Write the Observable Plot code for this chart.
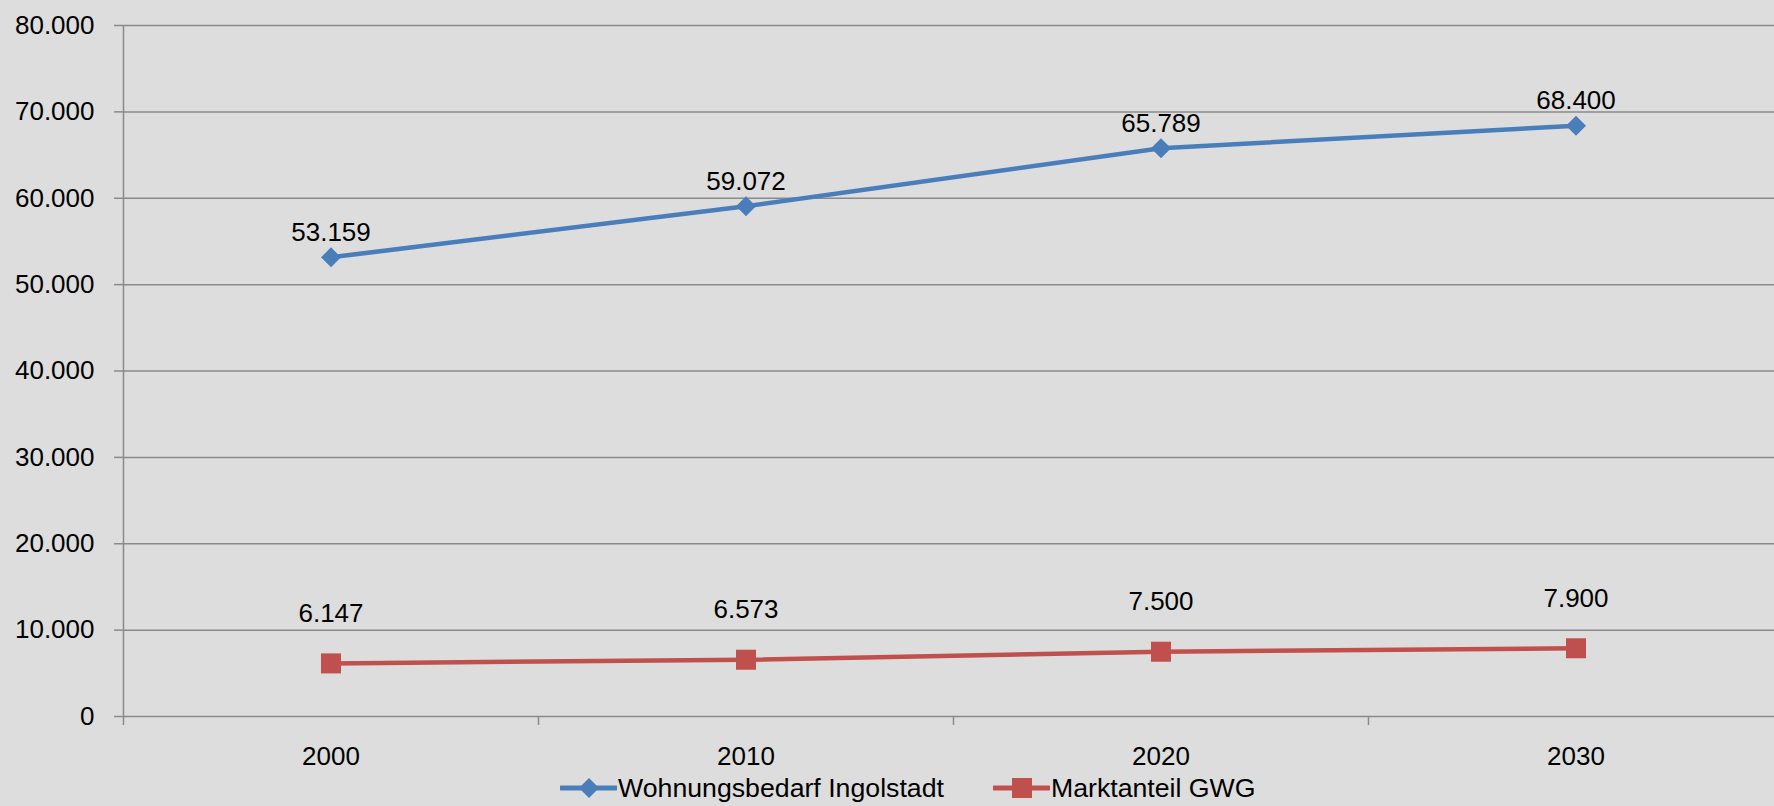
<!DOCTYPE html>
<html>
<head>
<meta charset="utf-8">
<script src="https://cdn.jsdelivr.net/npm/d3@7"></script>
<script src="https://cdn.jsdelivr.net/npm/@observablehq/plot@0.6"></script>
<style>
  html, body { margin: 0; padding: 0; background: #dddddd; }
  body { width: 1774px; height: 806px; overflow: hidden; font-family: "Liberation Sans", Arial, sans-serif; }
  #legend { display: flex; align-items: center; height: 36px; margin-left: 560px; font-size: 26.7px; color: #000; }
  .item { display: flex; align-items: center; margin-right: 49px; }
  .item svg { margin-right: 1px; }
</style>
</head>
<body>
<div id="chart"></div>
<div id="legend"></div>
<script>
const years = [2000, 2010, 2020, 2030];
const wohnungsbedarf = [53159, 59072, 65789, 68400];
const marktanteil = [6147, 6573, 7500, 7900];
const seriesNames = ["Wohnungsbedarf Ingolstadt", "Marktanteil GWG"];
const seriesColors = ["#4a7ebb", "#c0504d"];
const yTicks = [0, 10000, 20000, 30000, 40000, 50000, 60000, 70000, 80000];

const de = d3.formatLocale({decimal: ",", thousands: ".", grouping: [3], currency: ["", " €"]});
const fmt = de.format(",d");

const blue = years.map((year, i) => ({year, value: wohnungsbedarf[i]}));
const red = years.map((year, i) => ({year, value: marktanteil[i]}));
const step = years[1] - years[0];
const xDomain = [years[0] - step / 2, years[years.length - 1] + step / 2];
const bounds = [xDomain[0], ...years.slice(1).map((y, i) => (y + years[i]) / 2), xDomain[1]];

const gridColor = "#8a8a8a";

const chart = Plot.plot({
  width: 1774,
  height: 770,
  marginLeft: 123,
  marginRight: 0,
  marginTop: 25,
  marginBottom: 54,
  x: {type: "linear", domain: xDomain, range: [123, 1783]},
  y: {domain: [0, 80000]},
  style: {background: "transparent", fontFamily: "'Liberation Sans', Arial, sans-serif", fontSize: "26px", color: "#000", overflow: "visible"},
  marks: [
    Plot.gridY(yTicks, {stroke: gridColor, strokeOpacity: 1, strokeWidth: 1.5}),
    Plot.ruleX([xDomain[0]], {y1: 0, y2: 80000, stroke: gridColor, strokeWidth: 1.5}),
    Plot.axisY(yTicks, {tickSize: 9, tickPadding: 20, tickFormat: fmt, stroke: gridColor, strokeWidth: 1.5, fontSize: 26, label: null}),
    Plot.axisX(bounds, {tickSize: 9, tickFormat: () => "", stroke: gridColor, strokeWidth: 1.5, label: null}),
    Plot.axisX(years, {tickSize: 0, tickPadding: 30, tickFormat: d => String(d), fontSize: 26, label: null}),
    Plot.line(blue, {x: "year", y: "value", stroke: seriesColors[0], strokeWidth: 4.5}),
    Plot.line(red, {x: "year", y: "value", stroke: seriesColors[1], strokeWidth: 4.5}),
    Plot.dot(blue, {x: "year", y: "value", symbol: "diamond2", r: 9, fill: seriesColors[0], stroke: null}),
    Plot.dot(red, {x: "year", y: "value", symbol: "square", r: 11.3, fill: seriesColors[1], stroke: null}),
    Plot.text(blue, {x: "year", y: "value", text: d => fmt(d.value), dy: -25, fontSize: 26, fill: "#000"}),
    Plot.text(red, {x: "year", y: "value", text: d => fmt(d.value), dy: -50, fontSize: 26, fill: "#000"})
  ]
});
document.getElementById("chart").appendChild(chart);

const legend = document.getElementById("legend");
const symbols = [
  '<path d="M29,2 L39,12 L29,22 L19,12 Z" />',
  '<rect x="19" y="2" width="20" height="20" />'
];
seriesNames.forEach((name, i) => {
  const item = document.createElement("div");
  item.className = "item";
  item.innerHTML = `<svg width="57" height="24" viewBox="0 0 57 24"><line x1="1" y1="12" x2="56" y2="12" stroke="${seriesColors[i]}" stroke-width="5" stroke-linecap="round"/><g fill="${seriesColors[i]}">${symbols[i]}</g></svg><span>${name}</span>`;
  legend.appendChild(item);
});
</script>
</body>
</html>
